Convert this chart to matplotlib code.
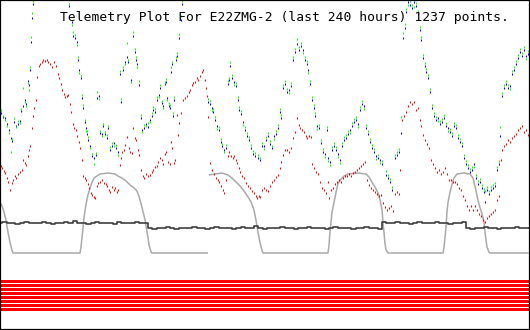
import numpy as np
import matplotlib
matplotlib.use("Agg")
import matplotlib.pyplot as plt

TITLE = "Telemetry Plot For E22ZMG-2 (last 240 hours) 1237 points."

# ---- channels 2 and 3 (blue / green) share timestamps (hours) ----
bg_hours = [
    0.5, 1.4, 2.3, 3.2, 4.1, 5.0, 5.4, 6.3, 7.2, 8.2,
    9.1, 9.5, 10.4, 11.3, 11.8, 12.7, 13.1, 13.6, 14.0, 14.5,
    14.9, 18.1, 22.6, 27.2, 29.9, 31.2, 32.6, 33.1, 34.0, 34.9,
    35.3, 35.8, 36.7, 37.1, 37.6, 38.5, 38.9, 39.4, 39.8, 40.8,
    41.7, 42.6, 43.5, 43.9, 44.8, 45.3, 46.2, 46.6, 47.5, 48.5,
    48.9, 49.8, 50.7, 51.6, 52.5, 53.4, 54.3, 54.8, 55.7, 56.6,
    57.5, 58.0, 59.3, 60.2, 61.1, 61.6, 62.0, 62.9, 63.8, 64.3,
    65.2, 66.1, 67.0, 67.9, 68.8, 69.3, 70.2, 71.1, 72.0, 72.4,
    73.4, 73.8, 74.7, 75.2, 75.6, 76.5, 77.0, 77.4, 77.9, 78.3,
    78.8, 79.7, 80.1, 81.1, 82.0, 82.4, 86.0, 90.6, 93.3, 94.2,
    95.1, 96.0, 96.4, 97.4, 98.3, 99.2, 100.1, 100.5, 101.4, 102.3,
    103.2, 103.7, 104.1, 105.0, 106.0, 106.9, 107.8, 108.2, 109.1, 110.0,
    110.9, 111.8, 112.7, 113.7, 114.6, 115.5, 116.8, 117.7, 118.6, 119.5,
    120.4, 121.4, 122.3, 123.2, 124.1, 125.0, 125.9, 126.8, 127.2, 128.1,
    129.0, 130.0, 130.9, 131.8, 132.7, 133.6, 134.5, 135.4, 136.3, 137.2,
    138.1, 139.0, 139.5, 140.4, 141.3, 142.2, 142.6, 143.5, 144.4, 145.4,
    146.3, 147.2, 148.1, 148.5, 149.4, 150.3, 151.2, 152.1, 153.0, 154.0,
    154.9, 155.8, 156.7, 157.6, 158.5, 159.4, 160.3, 161.2, 162.1, 163.0,
    163.9, 164.8, 165.7, 166.6, 167.5, 168.4, 169.3, 170.3, 171.2, 172.1,
    173.0, 174.8, 175.7, 176.6, 177.5, 178.9, 179.8, 180.7, 181.6, 182.5,
    183.4, 183.8, 184.7, 185.6, 186.6, 187.5, 188.4, 189.3, 190.2, 190.6,
    191.5, 192.4, 192.9, 193.8, 194.7, 195.6, 196.5, 197.4, 198.3, 199.2,
    200.1, 201.0, 202.0, 202.9, 203.8, 204.7, 205.6, 206.5, 207.4, 208.3,
    209.2, 210.1, 211.0, 211.9, 212.8, 213.7, 214.6, 215.5, 216.4, 217.4,
    218.3, 219.2, 219.6, 220.5, 221.4, 222.3, 223.2, 224.1, 225.0, 225.9,
    226.4, 227.3, 228.2, 229.1, 230.0, 230.9, 231.8, 232.7, 233.7, 234.6,
    235.5, 236.4, 237.3, 238.2, 239.1,
]
blue_vals = [
    144, 140, 139, 133, 127, 119, 116, 135, 131, 133,
    136, 146, 151, 157, 153, 176, 172, 187, 215, 239,
    253, 290, 310, 300, 268, 251, 235, 221, 219, 215,
    197, 187, 179, 159, 149, 135, 129, 123, 117, 111,
    101, 99, 102, 159, 161, 124, 123, 131, 123, 119,
    129, 107, 111, 114, 109, 105, 183, 155, 187, 195,
    200, 195, 177, 221, 205, 197, 193, 172, 139, 127,
    129, 133, 130, 137, 141, 147, 145, 157, 162, 169,
    154, 151, 173, 175, 159, 151, 149, 185, 193, 141,
    157, 197, 201, 219, 237, 253, 290, 300, 290, 155,
    153, 149, 145, 137, 131, 127, 115, 111, 107, 109,
    173, 177, 191, 179, 175, 171, 157, 147, 143, 135,
    127, 121, 117, 109, 103, 101, 99, 97, 111, 111,
    117, 121, 113, 109, 121, 123, 129, 145, 139, 169,
    173, 165, 167, 171, 197, 205, 213, 207, 211, 207,
    197, 193, 187, 173, 157, 149, 141, 131, 129, 114,
    105, 103, 127, 99, 95, 107, 111, 107, 103, 97,
    111, 117, 119, 123, 127, 131, 135, 137, 133, 147,
    153, 151, 129, 123, 115, 109, 105, 101, 99, 97,
    93, 82, 79, 75, 67, 99, 102, 105, 124, 219,
    229, 245, 255, 252, 249, 255, 251, 243, 227, 217,
    199, 191, 185, 179, 165, 149, 141, 137, 139, 133,
    135, 139, 131, 129, 125, 121, 131, 129, 119, 115,
    111, 99, 93, 89, 85, 87, 93, 79, 73, 75,
    69, 65, 55, 67, 63, 67, 69, 71, 87, 93,
    121, 161, 169, 173, 169, 171, 183, 187, 193, 199,
    205, 201, 207, 201, 203,
]
green_vals = [
    147, 141, 137, 131, 124, 105, 118, 139, 130, 136,
    134, 148, 169, 155, 151, 174, 167, 190, 220, 244,
    256, 292, 306, 303, 270, 253, 232, 225, 222, 212,
    200, 184, 181, 162, 152, 137, 126, 126, 120, 109,
    103, 93, 104, 165, 158, 126, 121, 133, 125, 122,
    131, 110, 114, 111, 112, 102, 186, 158, 190, 193,
    214, 197, 175, 225, 208, 200, 190, 176, 142, 125,
    132, 131, 134, 135, 144, 150, 148, 160, 160, 172,
    156, 149, 175, 178, 157, 154, 152, 190, 195, 144,
    160, 200, 204, 223, 241, 256, 292, 298, 288, 158,
    156, 146, 148, 140, 128, 130, 118, 113, 105, 112,
    176, 179, 195, 182, 172, 174, 160, 150, 146, 132,
    130, 124, 120, 112, 106, 104, 102, 99, 114, 108,
    120, 124, 116, 111, 118, 126, 132, 148, 142, 172,
    176, 168, 164, 174, 200, 208, 218, 210, 214, 204,
    200, 196, 184, 176, 160, 152, 144, 128, 132, 117,
    108, 100, 130, 96, 92, 110, 114, 110, 100, 94,
    114, 120, 122, 126, 124, 134, 138, 140, 130, 150,
    156, 148, 132, 126, 118, 112, 108, 98, 102, 94,
    96, 86, 82, 78, 70, 102, 105, 108, 140, 224,
    233, 248, 252, 256, 252, 250, 254, 246, 230, 220,
    202, 194, 188, 182, 168, 152, 144, 140, 136, 136,
    138, 142, 134, 126, 128, 124, 134, 132, 122, 118,
    114, 102, 96, 92, 88, 90, 90, 82, 76, 78,
    72, 68, 66, 70, 66, 70, 72, 74, 90, 96,
    130, 164, 172, 176, 172, 168, 186, 190, 196, 202,
    208, 204, 210, 198, 206,
]

# ---- channel 1 (red) ----
red_hours = [
    0.5, 0.9, 1.8, 2.3, 3.2, 3.6, 4.5, 5.4, 5.9, 6.8,
    7.2, 8.2, 9.1, 10.0, 10.4, 11.3, 11.8, 12.7, 13.1, 13.6,
    14.5, 14.9, 15.4, 16.3, 16.8, 17.7, 18.1, 19.0, 19.5, 20.4,
    21.3, 21.7, 22.6, 23.5, 24.5, 25.4, 26.3, 26.7, 27.6, 28.1,
    29.0, 29.4, 30.3, 30.8, 31.7, 32.1, 33.1, 33.5, 34.4, 34.9,
    35.8, 36.2, 37.1, 37.6, 38.5, 38.9, 39.8, 40.3, 41.2, 41.7,
    42.6, 43.0, 43.9, 44.4, 45.3, 46.2, 47.1, 48.0, 48.5, 49.4,
    49.8, 50.7, 51.6, 52.1, 53.0, 53.4, 54.3, 54.8, 55.2, 56.1,
    56.6, 57.5, 58.4, 58.9, 59.8, 60.2, 61.1, 61.6, 62.5, 62.9,
    63.8, 64.8, 65.2, 66.1, 67.0, 67.9, 68.8, 69.3, 70.2, 71.1,
    71.5, 72.4, 73.4, 73.8, 74.7, 75.2, 76.1, 77.0, 77.4, 77.9,
    78.8, 79.2, 80.1, 80.6, 81.1, 82.0, 82.9, 83.8, 84.7, 85.6,
    86.0, 86.9, 87.4, 88.3, 89.2, 89.7, 90.6, 91.5, 91.9, 92.8,
    93.3, 93.7, 94.2, 95.1, 96.0, 96.9, 97.8, 98.7, 99.2, 100.1,
    101.0, 101.4, 102.3, 103.2, 103.7, 104.6, 105.5, 106.0, 106.9, 107.3,
    108.2, 108.7, 109.6, 110.5, 111.4, 112.3, 113.2, 114.1, 115.0, 115.9,
    116.4, 117.3, 117.7, 118.6, 119.5, 120.4, 121.4, 122.3, 123.2, 124.1,
    125.0, 125.9, 126.8, 127.2, 128.1, 129.0, 130.0, 130.9, 131.8, 132.7,
    133.6, 134.5, 135.4, 135.8, 136.7, 137.7, 138.6, 139.0, 139.9, 140.8,
    141.3, 142.2, 143.1, 144.0, 144.9, 145.8, 146.7, 147.6, 148.5, 149.0,
    149.9, 150.8, 151.7, 152.6, 153.5, 154.4, 155.3, 156.2, 157.1, 158.0,
    158.9, 159.8, 160.7, 161.6, 162.6, 163.5, 164.4, 165.3, 166.2, 167.1,
    168.0, 168.9, 169.8, 170.7, 171.6, 172.5, 173.4, 174.3, 175.2, 176.1,
    177.0, 178.0, 178.9, 179.8, 180.7, 181.1, 182.0, 182.9, 183.8, 184.7,
    185.6, 186.6, 187.5, 188.4, 189.3, 190.2, 190.6, 191.5, 192.4, 193.3,
    194.3, 195.2, 196.1, 197.0, 197.9, 198.8, 199.7, 200.6, 201.5, 202.4,
    203.3, 204.2, 205.1, 206.0, 206.9, 207.8, 208.7, 209.6, 210.6, 211.5,
    212.4, 213.3, 214.2, 215.1, 216.0, 216.9, 217.8, 218.7, 219.6, 220.5,
    221.4, 222.3, 223.2, 224.1, 225.0, 225.9, 226.9, 227.3, 228.2, 229.1,
    230.0, 230.9, 231.8, 232.7, 233.7, 234.6, 235.5, 236.4, 237.3, 238.2,
    239.1,
]
red_vals = [
    91, 89, 86, 84, 79, 75, 67, 74, 77, 81,
    79, 83, 85, 87, 97, 94, 92, 101, 107, 111,
    129, 141, 149, 157, 180, 191, 193, 195, 197, 196,
    197, 195, 193, 190, 195, 191, 183, 179, 173, 167,
    163, 160, 161, 162, 153, 145, 133, 129, 127, 121,
    115, 109, 97, 81, 79, 77, 73, 69, 64, 62,
    60, 59, 71, 74, 75, 77, 74, 73, 71, 67,
    65, 70, 67, 69, 65, 67, 92, 99, 105, 107,
    112, 120, 109, 105, 104, 129, 119, 117, 107, 102,
    87, 81, 79, 83, 81, 82, 85, 87, 90, 91,
    95, 99, 97, 93, 103, 105, 95, 93, 115, 109,
    94, 97, 142, 122, 134, 144, 157, 159, 161, 165,
    167, 172, 174, 175, 179, 177, 181, 185, 187, 177,
    169, 161, 140, 94, 87, 83, 79, 77, 75, 71,
    67, 64, 77, 101, 105, 101, 99, 101, 97, 94,
    89, 85, 81, 79, 74, 71, 69, 66, 64, 61,
    59, 61, 60, 67, 69, 67, 66, 71, 75, 77,
    80, 82, 89, 95, 102, 107, 107, 105, 109, 119,
    125, 139, 132, 129, 127, 125, 121, 119, 121, 120,
    93, 89, 85, 83, 75, 69, 67, 64, 75, 59,
    67, 69, 73, 75, 77, 75, 79, 81, 81, 83,
    81, 84, 85, 87, 89, 91, 93, 95, 77, 72,
    69, 67, 65, 63, 61, 62, 54, 50, 47, 49,
    51, 46, 63, 65, 63, 87, 137, 141, 145, 151,
    155, 153, 155, 147, 149, 137, 131, 122, 117, 113,
    109, 97, 93, 89, 85, 87, 83, 85, 89, 83,
    77, 77, 75, 75, 73, 69, 67, 61, 57, 51,
    47, 51, 47, 51, 47, 43, 41, 37, 35, 39,
    41, 43, 45, 47, 57, 61, 97, 107, 111, 113,
    117, 115, 119, 121, 123, 127, 129, 131, 125, 127,
    122,
]

# ---- channel 4 (light gray, solar-like domes); None = gap ----
gray_hours = [
    0.0, 0.9, 1.8, 2.7, 3.6, 4.5, 5.4, 5.9, 36.2, 36.7,
    37.1, 37.6, 38.0, 38.9, 39.8, 40.8, 41.7, 42.6, 43.9, 45.3,
    48.9, 52.1, 53.4, 55.2, 57.1, 58.9, 60.7, 62.0, 62.9, 63.8,
    64.8, 65.7, 66.6, 67.5, 68.4, 68.8, 94.2, 94.4, 94.6, 97.4,
    100.5, 103.2, 105.0, 106.9, 108.7, 110.5, 112.3, 113.7, 115.0, 115.9,
    116.8, 117.7, 118.6, 119.1, 148.5, 149.0, 149.4, 149.9, 150.3, 151.2,
    152.1, 153.0, 154.4, 155.8, 157.6, 162.1, 165.7, 167.1, 168.4, 169.8,
    171.2, 172.1, 173.0, 173.4, 173.9, 174.3, 174.8, 175.7, 200.6, 201.0,
    201.5, 202.0, 202.4, 202.9, 203.8, 204.7, 205.6, 206.9, 210.1, 212.8,
    214.2, 215.5, 216.4, 217.4, 218.3, 219.2, 219.6, 220.1, 220.5, 221.4,
    221.9, 239.5,
]
gray_vals = [
    55, 51, 45, 37, 25, 15, 7, 4, 4, 10,
    19, 29, 39, 52, 62, 69, 75, 79, 81, 83,
    84, 83, 81, 79, 76, 72, 69, 66, 61, 54,
    45, 37, 25, 12, 5, 4, 4, None, 82, 83,
    84, 82, 79, 75, 71, 66, 60, 55, 47, 37,
    25, 15, 7, 4, 4, 12, 25, 35, 44, 54,
    64, 73, 78, 81, 83, 84, 83, 80, 75, 70,
    64, 57, 47, 35, 24, 14, 7, 4, 4, 9,
    19, 31, 45, 55, 65, 73, 79, 83, 84, 83,
    79, 67, 57, 49, 43, 35, 25, 17, 10, 5,
    4, 4,
]

# ---- channel 5 (dark gray), one reading every 2 hours ----
black_vals = [
    34, 35, 34, 34, 33, 34, 35, 34, 34, 34,
    35, 34, 33, 34, 34, 35, 34, 36, 34, 34,
    33, 34, 35, 34, 34, 34, 33, 35, 34, 34,
    34, 35, 34, 34, 29, 28, 29, 29, 30, 29,
    28, 29, 29, 29, 30, 29, 29, 28, 29, 30,
    29, 29, 29, 28, 29, 30, 29, 29, 31, 29,
    28, 29, 29, 29, 30, 29, 29, 28, 29, 29,
    30, 29, 29, 29, 28, 29, 30, 29, 29, 29,
    28, 29, 29, 30, 29, 29, 28, 35, 34, 34,
    35, 34, 34, 33, 34, 35, 34, 34, 34, 35,
    34, 34, 33, 34, 34, 35, 29, 28, 29, 29,
    30, 29, 29, 28, 29, 29, 29, 30, 29, 29, 29,
]
black_hours = np.arange(len(black_vals)) * 2.0

# ---- 8 digital bits (all on over the period) ----
bits = [1, 1, 1, 1, 1, 1, 1, 1]

# ------------------------------------------------------------------
fig = plt.figure(figsize=(5.3, 3.3), dpi=100)
ax = fig.add_axes([0, 0, 1, 1])
ax.set_xlim(0, 240)
ax.set_ylim(-73, 257)
ax.set_xticks([])
ax.set_yticks([])
for sp in ax.spines.values():
    sp.set_linewidth(1.6)
    sp.set_color("black")

gv = np.array([np.nan if v is None else v for v in gray_vals], dtype=float)
ax.plot(gray_hours, gv, color="#aaaaaa", lw=1.1, solid_capstyle="butt")

ax.plot(black_hours, black_vals, color="#404040", lw=1.2, drawstyle="steps-mid")

mk = dict(ls="none", marker="|", ms=2.0, mew=0.75, antialiased=False)
ax.plot(red_hours, red_vals, color="#ff0000", **mk)
n = min(len(bg_hours), len(blue_vals), len(green_vals))
ax.plot(bg_hours[:n], blue_vals[:n], color="#0000ff", **mk)
ax.plot(bg_hours[:n], green_vals[:n], color="#00ff00", **mk)

for i, b in enumerate(bits):
    if b:
        top = -23 - 4 * i
        ax.axhspan(top - 3, top, color="#ff0000", lw=0)

fig.text(60 / 530, 1 - 21 / 330, TITLE, family="DejaVu Sans Mono",
         fontsize=9.4, color="black", ha="left", va="baseline")

fig.savefig("out.png", dpi=100)
